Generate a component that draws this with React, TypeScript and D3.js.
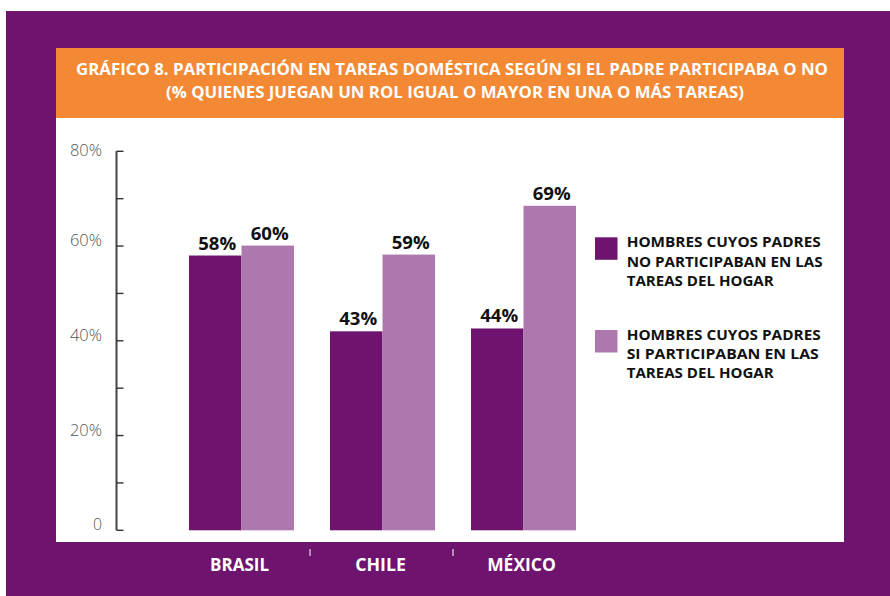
import React from "react";
import * as d3 from "d3";

const categories = ["BRASIL", "CHILE", "MÉXICO"];
const seriesNames = [
  ["HOMBRES CUYOS PADRES", "NO PARTICIPABAN EN LAS", "TAREAS DEL HOGAR"],
  ["HOMBRES CUYOS PADRES", "SI PARTICIPABAN EN LAS", "TAREAS DEL HOGAR"],
];
const valuesNo = [58, 42, 42.6];
const valuesSi = [60.1, 58.2, 68.5];
const labelsNo = ["58%", "43%", "44%"];
const labelsSi = ["60%", "59%", "69%"];
const yTicks = [0, 20, 40, 60, 80];
const yMinorTicks = [0, 10, 20, 30, 40, 50, 60, 70, 80];
const titleLines = [
  "GRÁFICO 8. PARTICIPACIÓN EN TAREAS DOMÉSTICA SEGÚN SI EL PADRE PARTICIPABA O NO",
  "(% QUIENES JUEGAN UN ROL IGUAL O MAYOR EN UNA O MÁS TAREAS)",
];

const PURPLE = "#6e146f";
const LIGHT = "#ad78ad";
const ORANGE = "#f38935";
const FONT = "'Open Sans', 'DejaVu Sans', sans-serif";

export default function App() {
  const W = 890, H = 596;
  const y = d3.scaleLinear().domain([0, 80]).range([530.3, 151.3]);
  const x = d3.scalePoint<string>().domain(categories).range([241.5, 523.5]);
  const inner = d3.scaleBand<number>().domain([0, 1]).range([-52.5, 52.5]);
  const series = [
    { values: valuesNo, labels: labelsNo, color: PURPLE },
    { values: valuesSi, labels: labelsSi, color: LIGHT },
  ];
  const titleWidths = [752, 578];
  const titleCenters = [452, 455];
  const titleBase = [75, 97.7];
  const legendWidths = [[194, 196, 147], [194, 192, 147]];
  const legendTops = [237.3, 330];
  const xLabelWidths = [59, 50.7, 68.7];
  const yLabelWidths: Record<number, number> = { 0: 9, 20: 32, 40: 32, 60: 32, 80: 32 };
  const sepX = [
    ((x("BRASIL") as number) + (x("CHILE") as number)) / 2 - 2,
    ((x("CHILE") as number) + (x("MÉXICO") as number)) / 2,
  ];

  return (
    <svg width={W} height={H} style={{ position: "absolute", left: 0, top: 0 }} fontFamily={FONT}>
      <rect x={0} y={0} width={W} height={H} fill="#fff" />
      <rect x={6} y={11} width={W - 6} height={H - 11} fill={PURPLE} />
      <rect x={56} y={48} width={788} height={70} fill={ORANGE} />
      <rect x={56} y={118} width={788} height={424} fill="#fff" />
      {titleLines.map((t, i) => (
        <text key={i} x={titleCenters[i]} y={titleBase[i]} textAnchor="middle" fill="#fff"
          fontWeight="bold" fontSize={16.5} textLength={titleWidths[i]} lengthAdjust="spacingAndGlyphs">{t}</text>
      ))}
      {/* y axis */}
      <line x1={116.5} x2={116.5} y1={y(80)} y2={y(0)} stroke="#444" strokeWidth={2} />
      {yMinorTicks.map((t) => (
        <line key={t} x1={116.5} x2={123.5} y1={y(t)} y2={y(t)} stroke="#333" strokeWidth={1.4} />
      ))}
      {yTicks.map((t) => (
        <text key={t} x={102} y={y(t) + (t === 80 ? 5 : 0)} textAnchor="end" fill="#555" fontSize={16}
          fontWeight={300} textLength={yLabelWidths[t]} lengthAdjust="spacingAndGlyphs">
          {t === 0 ? "0" : `${t}%`}
        </text>
      ))}
      {/* bars */}
      {categories.map((c, ci) =>
        series.map((s, si) => {
          const bx = (x(c) as number) + (inner(si) as number);
          const bw = inner.bandwidth();
          return (
            <g key={c + si}>
              <rect x={bx} y={y(s.values[ci])} width={bw} height={y(0) - y(s.values[ci])} fill={s.color} />
              <text x={bx + bw / 2 + 2} y={y(s.values[ci]) - 6} textAnchor="middle" fontWeight="bold"
                fontSize={17} fill="#111" textLength={38} lengthAdjust="spacingAndGlyphs">{s.labels[ci]}</text>
            </g>
          );
        })
      )}
      {/* x labels */}
      {categories.map((c, i) => (
        <text key={c} x={(x(c) as number) - 2} y={570.5} textAnchor="middle" fill="#fff" fontWeight="bold"
          fontSize={17.5} textLength={xLabelWidths[i]} lengthAdjust="spacingAndGlyphs">{c}</text>
      ))}
      {sepX.map((sx, i) => (
        <line key={i} x1={sx} x2={sx} y1={549} y2={556} stroke="#fff" strokeWidth={1} />
      ))}
      {/* legend */}
      {series.map((s, si) => (
        <g key={si}>
          <rect x={595} y={legendTops[si]} width={22.5} height={22.5} fill={s.color} />
          {seriesNames[si].map((ln, li) => (
            <text key={li} x={626.7} y={legendTops[si] + 10 + li * 19.2} fontWeight="bold" fontSize={14}
              fill="#111" textLength={legendWidths[si][li]} lengthAdjust="spacingAndGlyphs">{ln}</text>
          ))}
        </g>
      ))}
    </svg>
  );
}
